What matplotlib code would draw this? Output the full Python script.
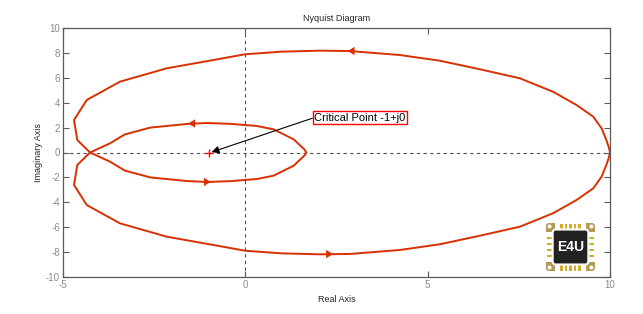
import numpy as np
import matplotlib
matplotlib.use("Agg")
import matplotlib.pyplot as plt
from matplotlib.patches import FancyBboxPatch, Rectangle, Circle

# ---- data ----
# branch 1: upper outer arc (from 10+j0) then lower inner loop ending at 1.67+j0
branch_re = [10.0, 9.97, 9.9, 9.77, 9.54, 9.08, 8.44, 7.53, 6.44, 5.34, 4.24,
             2.87, 2.05, 1.0, 0.0, -0.87, -2.15, -3.43, -4.34, -4.69, -4.6,
             -4.25, -3.7, -3.3, -2.6, -1.6, -1.05, -0.4, 0.32, 0.78, 1.33,
             1.64, 1.67]
branch_im = [0.0, 0.4, 1.0, 1.94, 2.88, 3.82, 4.88, 5.96, 6.68, 7.37, 7.83,
             8.15, 8.18, 8.1, 7.89, 7.43, 6.76, 5.69, 4.22, 2.61, 1.0,
             0.0, -0.74, -1.45, -2.0, -2.29, -2.37, -2.3, -2.13, -1.86,
             -1.06, -0.2, 0.0]

arrow_re = [2.87, 2.35, -1.5, -1.0]
arrow_im = [8.15, -8.16, 2.33, -2.36]
arrow_dir = [-1, 1, -1, 1]

critical_re, critical_im = -1.0, 0.0
annot_text = "Critical Point -1+j0"

x_ticks = [-5, 0, 5, 10]
y_ticks = [-10, -8, -6, -4, -2, 0, 2, 4, 6, 8, 10]

# ---- figure ----
plt.rcParams['font.family'] = ['Liberation Sans', 'DejaVu Sans']
plt.rcParams['axes.unicode_minus'] = False
W, H = 643, 314
fig = plt.figure(figsize=(W / 100, H / 100), dpi=100)
ax = fig.add_axes([62.7 / W, (H - 277) / H, (610 - 62.7) / W, (277 - 28) / H])

curve_color = '#d83000'
re1 = np.array(branch_re)
im1 = np.array(branch_im)
ax.plot(re1, im1, color=curve_color, lw=1.4, zorder=3)
ax.plot(re1, -im1, color=curve_color, lw=1.4, zorder=3)

for xr, yi, d in zip(arrow_re, arrow_im, arrow_dir):
    ax.annotate('', xy=(xr + d * 0.06, yi), xytext=(xr - d * 0.35, yi),
                arrowprops=dict(arrowstyle='-|>,head_length=0.5,head_width=0.3',
                                color=curve_color, lw=0,
                                mutation_scale=10, shrinkA=0, shrinkB=0),
                zorder=4)

ax.axhline(0, color='#505050', lw=0.8, ls=(0, (3, 3)), zorder=1)
ax.axvline(0, color='#505050', lw=0.8, ls=(0, (3, 3)), zorder=1)

ax.plot([critical_re], [critical_im], marker='+', color='red', ms=6, mew=1.0,
        zorder=5)

ax.annotate(annot_text, xy=(-0.92, 0.03), xytext=(1.9, 2.81),
            ha='left', va='center', fontsize=8, color='black',
            bbox=dict(boxstyle='square,pad=0.15', fc='white', ec='red', lw=1.0),
            arrowprops=dict(arrowstyle='-|>', color='black', lw=0.8,
                            mutation_scale=11, shrinkA=0, shrinkB=0,
                            relpos=(0, 0.5)),
            zorder=6)

ax.set_xlim(-5, 10)
ax.set_ylim(-10, 10)
ax.set_xticks(x_ticks)
ax.set_yticks(y_ticks)
ax.tick_params(direction='in', length=4, width=0.8, colors='#5a5a5a',
               labelcolor='#8a8a8a', labelsize=7, top=True, right=True, pad=2)
for s in ax.spines.values():
    s.set_color('#5a5a5a')
    s.set_linewidth(0.9)

ax.set_title('Nyquist Diagram', fontsize=6.5, color='#262626', pad=5)
ax.set_xlabel('Real Axis', fontsize=6.5, color='#262626', labelpad=4)
ax.set_ylabel('Imaginary Axis', fontsize=6.5, color='#262626', labelpad=2)

# ---- E4U logo ----
lx, ly, lw_, lh = 545, 222, 51, 50
lax = fig.add_axes([lx / W, (H - ly - lh) / H, lw_ / W, lh / H])
lax.set_xlim(0, 1)
lax.set_ylim(0, 1)
lax.axis('off')
gold = '#b39856'
pin = '#d2ad2a'
lax.add_patch(FancyBboxPatch((0.02, 0.02), 0.96, 0.96,
                             boxstyle='round,pad=0,rounding_size=0.06',
                             fc=gold, ec='none'))
lax.add_patch(Rectangle((0.2, 0.0), 0.6, 1.0, fc='white', ec='none'))
lax.add_patch(Rectangle((0.0, 0.2), 1.0, 0.6, fc='white', ec='none'))
for p in np.linspace(0.32, 0.68, 5):
    lax.add_patch(Rectangle((p - 0.025, 0.03), 0.05, 0.14, fc=pin, ec='none'))
    lax.add_patch(Rectangle((p - 0.025, 0.83), 0.05, 0.14, fc=pin, ec='none'))
for p in np.linspace(0.32, 0.68, 4):
    lax.add_patch(Rectangle((0.03, p - 0.025), 0.14, 0.05, fc=pin, ec='none'))
    lax.add_patch(Rectangle((0.83, p - 0.025), 0.14, 0.05, fc=pin, ec='none'))
for cx, cy in [(0.09, 0.09), (0.91, 0.09), (0.09, 0.91), (0.91, 0.91)]:
    lax.add_patch(Circle((cx, cy), 0.04, fc='white', ec='none'))
lax.add_patch(FancyBboxPatch((0.15, 0.15), 0.7, 0.7,
                             boxstyle='round,pad=0,rounding_size=0.06',
                             fc='#222222', ec='white', lw=1.5))
lax.text(0.5, 0.5, 'E4U', color='white', fontsize=10, fontweight='bold',
         ha='center', va='center', family=['Liberation Sans', 'DejaVu Sans'])

fig.savefig('out.png', dpi=100)
